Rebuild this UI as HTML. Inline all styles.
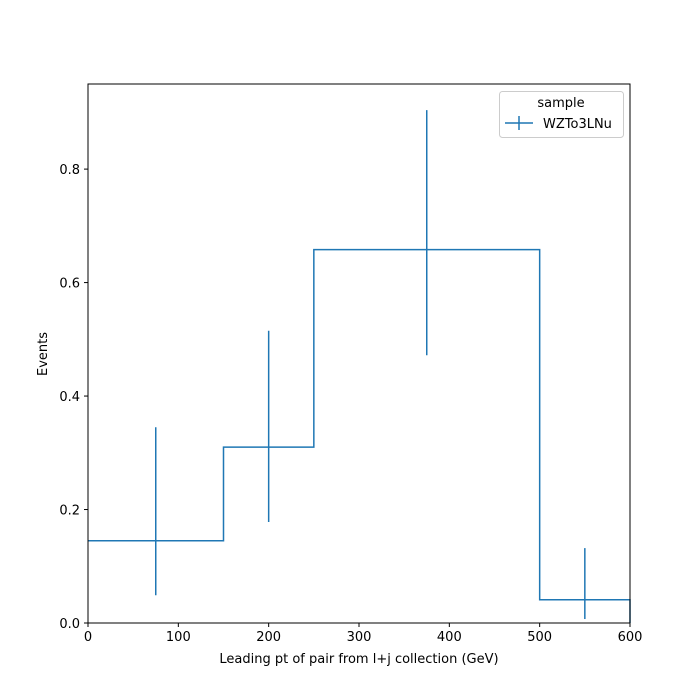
<!DOCTYPE html>
<html><head><meta charset="utf-8"><style>
body{margin:0;background:#fff}
svg{display:block;font-family:"DejaVu Sans","Liberation Sans",sans-serif}
</style></head><body>
<svg id="chart" width="700" height="700" viewBox="0 0 700 700">
<rect x="0" y="0" width="700" height="700" fill="#fff"/>
<g id="plot"></g>
<rect x="88" y="84" width="542" height="539" fill="none" stroke="#000" stroke-width="1"/>
<g id="xticks"></g><g id="yticks"></g>
<text x="359" y="663" font-size="13" text-anchor="middle">Leading pt of pair from l+j collection (GeV)</text>
<text x="47" y="354" font-size="13" text-anchor="middle" transform="rotate(-90 47 354)">Events</text>
<g>
<rect x="499.5" y="91.5" width="124" height="46" rx="3" fill="#fff" stroke="#ccc"/>
<text x="561" y="107" font-size="13" text-anchor="middle">sample</text>
<g>
<line x1="505" y1="123" x2="533" y2="123" stroke="#1f77b4" stroke-width="1.5"/>
<line x1="519" y1="116" x2="519" y2="130" stroke="#1f77b4" stroke-width="1.5"/>
<text x="543" y="128" font-size="13">WZTo3LNu</text>
</g></g>
</svg>
<script>
const edges=[0,150,250,500,600];
const values=[0.145,0.31,0.658,0.041];
const errLow=[0.049,0.178,0.472,0.007];
const errHigh=[0.345,0.515,0.904,0.132];
const xTicks=[0,100,200,300,400,500,600];
const yTicks=[0.0,0.2,0.4,0.6,0.8];
const NS="http://www.w3.org/2000/svg";
const X0=88,X1=630,Y0=623,Y1=84,XMAX=600,YMAX=0.95;
const sx=v=>X0+(v/XMAX)*(X1-X0);
const sy=v=>Y0-(v/YMAX)*(Y0-Y1);
function mk(t,a,p){const e=document.createElementNS(NS,t);for(const k in a)e.setAttribute(k,a[k]);p.appendChild(e);return e;}
const plot=document.getElementById('plot');
let d=`M${sx(edges[0])},${sy(values[0])}`;
for(let i=0;i<values.length;i++){d+=` L${sx(edges[i])},${sy(values[i])} L${sx(edges[i+1])},${sy(values[i])}`;}
d+=` L${sx(edges[edges.length-1])},${sy(0)}`;
const step=mk('path',{d:d,fill:'none',stroke:'#1f77b4','stroke-width':1.5},plot);


for(let i=0;i<values.length;i++){
 const c=(edges[i]+edges[i+1])/2;
 const l=mk('line',{x1:sx(c),x2:sx(c),y1:sy(errLow[i]),y2:sy(errHigh[i]),stroke:'#1f77b4','stroke-width':1.5},plot);
 
 
}
const xg=document.getElementById('xticks');
xTicks.forEach(v=>{
 const t=mk('line',{x1:sx(v),x2:sx(v),y1:Y0,y2:Y0+4,stroke:'#000'},xg);
 
 
 const tx=mk('text',{x:sx(v),y:Y0+18,'font-size':13,'text-anchor':'middle'},xg);
 tx.textContent=v;
 
 
});
const yg=document.getElementById('yticks');
yTicks.forEach(v=>{
 const t=mk('line',{x1:X0-4,x2:X0,y1:sy(v),y2:sy(v),stroke:'#000'},yg);
 
 
 const tx=mk('text',{x:X0-8,y:sy(v)+5,'font-size':13,'text-anchor':'end'},yg);
 tx.textContent=v.toFixed(1);
 
 
});
</script>
</body></html>
